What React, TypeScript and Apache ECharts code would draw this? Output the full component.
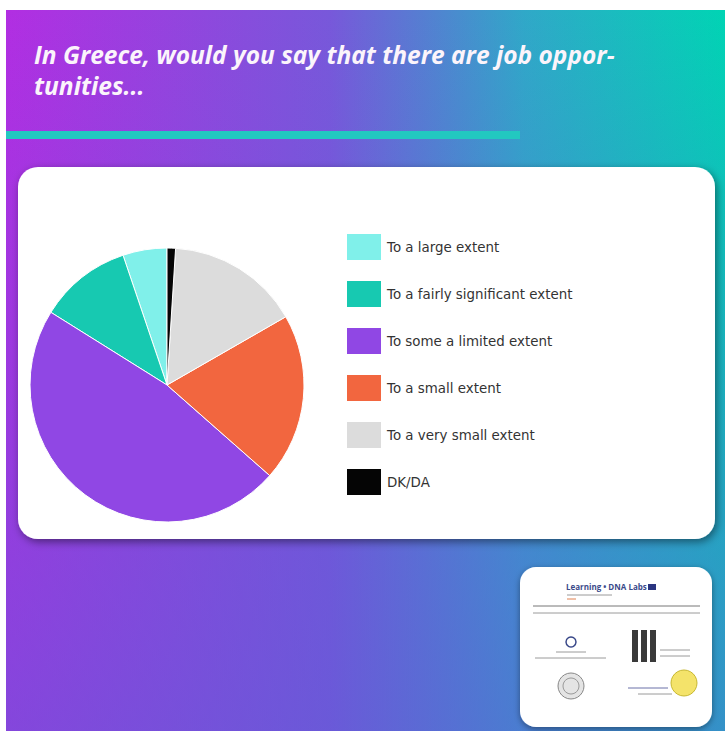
import React, { useEffect, useRef } from "react";
import * as echarts from "echarts";

const TITLE = "In Greece, would you say that there are job oppor-\ntunities...";
const categories = [
  "To a large extent",
  "To a fairly significant extent",
  "To some a limited extent",
  "To a small extent",
  "To a very small extent",
  "DK/DA",
];
const shares = [5.2, 10.9, 47.4, 19.8, 15.7, 1.0];
const colors = ["#80f0ea", "#17c9b1", "#9047e4", "#f2663f", "#dcdcdc", "#050505"];

export default function App() {
  const ref = useRef<HTMLDivElement>(null);
  useEffect(() => {
    if (!ref.current) return;
    const chart = echarts.init(ref.current, undefined, { renderer: "svg" });
    const bg = {
      type: "linear",
      x: 0, y: 0, x2: 1, y2: 0,
      colorStops: [
        { offset: 0, color: "#b22ee2" },
        { offset: 0.45, color: "#7858da" },
        { offset: 0.72, color: "#30a8c8" },
        { offset: 1, color: "#00d4b4" },
      ],
    };
    const overlay = {
      type: "linear",
      x: 0, y: 0, x2: 0, y2: 1,
      colorStops: [
        { offset: 0, color: "rgba(100,80,220,0)" },
        { offset: 1, color: "rgba(95,90,215,0.55)" },
      ],
    };
    const gray = "#9a9a9a";
    chart.setOption({
      animation: false,
      backgroundColor: "#ffffff",
      graphic: [
        { type: "rect", z: -10, shape: { x: 6, y: 10, width: 719, height: 721 }, style: { fill: bg } },
        { type: "rect", z: -9, shape: { x: 6, y: 10, width: 719, height: 721 }, style: { fill: overlay } },
        { type: "rect", z: -8, shape: { x: 6, y: 131, width: 514, height: 8 }, style: { fill: "#22c8c0" } },
        {
          type: "text", z: -7, left: 34, top: 39,
          style: {
            text: TITLE, fill: "#fbf4fb", font: "italic bold 24.5px 'Open Sans'", lineHeight: 31,
          },
        },
        {
          type: "rect", z: -6,
          shape: { x: 18, y: 167, width: 697, height: 372, r: 20 },
          style: { fill: "#ffffff", shadowBlur: 8, shadowColor: "rgba(0,0,0,0.45)", shadowOffsetX: 2, shadowOffsetY: 3 },
        },
        {
          type: "rect", z: -6,
          shape: { x: 520, y: 567, width: 192, height: 160, r: 16 },
          style: { fill: "#ffffff", shadowBlur: 6, shadowColor: "rgba(0,0,0,0.4)", shadowOffsetY: 2 },
        },
        { type: "text", left: 566, top: 582, style: { text: "Learning • DNA Labs", fill: "#3b4a8a", font: "bold 8px 'Open Sans'" } },
        { type: "rect", shape: { x: 648, y: 584, width: 8, height: 6 }, style: { fill: "#2a3580" } },
        { type: "line", shape: { x1: 567, y1: 595, x2: 612, y2: 595 }, style: { stroke: gray, lineWidth: 1 } },
        { type: "line", shape: { x1: 567, y1: 599, x2: 576, y2: 599 }, style: { stroke: "#e08050", lineWidth: 1 } },
        { type: "line", shape: { x1: 533, y1: 606, x2: 700, y2: 606 }, style: { stroke: "#777", lineWidth: 1 } },
        { type: "line", shape: { x1: 533, y1: 613, x2: 700, y2: 613 }, style: { stroke: gray, lineWidth: 1 } },
        { type: "circle", shape: { cx: 571, cy: 642, r: 5 }, style: { fill: "none", stroke: "#3b4a8a", lineWidth: 1.5 } },
        { type: "line", shape: { x1: 556, y1: 652, x2: 586, y2: 652 }, style: { stroke: gray, lineWidth: 1 } },
        { type: "line", shape: { x1: 535, y1: 658, x2: 606, y2: 658 }, style: { stroke: gray, lineWidth: 1 } },
        { type: "circle", shape: { cx: 571, cy: 686, r: 13 }, style: { fill: "#e4e4e4", stroke: "#888", lineWidth: 1 } },
        { type: "circle", shape: { cx: 571, cy: 686, r: 8 }, style: { fill: "none", stroke: "#999", lineWidth: 1 } },
        { type: "rect", shape: { x: 632, y: 630, width: 6, height: 32 }, style: { fill: "#3a3a3a" } },
        { type: "rect", shape: { x: 641, y: 630, width: 6, height: 32 }, style: { fill: "#3a3a3a" } },
        { type: "rect", shape: { x: 650, y: 630, width: 6, height: 32 }, style: { fill: "#3a3a3a" } },
        { type: "line", shape: { x1: 660, y1: 650, x2: 690, y2: 650 }, style: { stroke: gray, lineWidth: 1 } },
        { type: "line", shape: { x1: 660, y1: 656, x2: 690, y2: 656 }, style: { stroke: gray, lineWidth: 1 } },
        { type: "circle", shape: { cx: 684, cy: 683, r: 13 }, style: { fill: "#f4e36a", stroke: "#c8b830", lineWidth: 1 } },
        { type: "line", shape: { x1: 628, y1: 688, x2: 668, y2: 688 }, style: { stroke: "#6a70a8", lineWidth: 1 } },
        { type: "line", shape: { x1: 638, y1: 694, x2: 672, y2: 694 }, style: { stroke: gray, lineWidth: 1 } },
      ],
      legend: {
        orient: "vertical",
        left: 340,
        top: 227,
        itemWidth: 36,
        itemHeight: 28,
        itemGap: 17,
        icon: "rect",
        data: categories,
        textStyle: { color: "#333333", fontSize: 13.4, fontFamily: "DejaVu Sans" },
      },
      series: [
        {
          type: "pie",
          center: [167, 385],
          radius: 137,
          startAngle: 90,
          clockwise: false,
          label: { show: false },
          labelLine: { show: false },
          itemStyle: { borderColor: "#ffffff", borderWidth: 1 },
          data: categories.map((name, i) => ({ name, value: shares[i], itemStyle: { color: colors[i] } })),
        },
      ],
    });
    return () => chart.dispose();
  }, []);
  return (
    <div
      ref={ref}
      style={{ position: "absolute", left: 0, top: 0, width: 725, height: 731 }}
    />
  );
}
